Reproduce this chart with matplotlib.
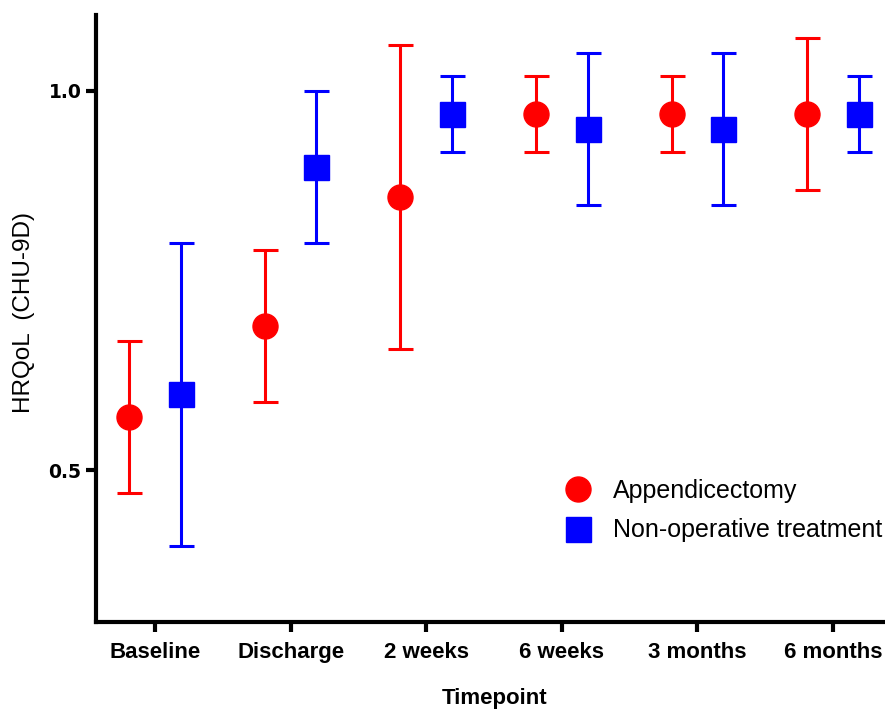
import matplotlib
matplotlib.use("Agg")
import matplotlib.pyplot as plt
from matplotlib.lines import Line2D
import numpy as np

timepoints = ['Baseline', 'Discharge', '2 weeks', '6 weeks', '3 months', '6 months']
app_mean = [0.57, 0.69, 0.86, 0.97, 0.97, 0.97]
app_low = [0.47, 0.59, 0.66, 0.92, 0.92, 0.87]
app_high = [0.67, 0.79, 1.06, 1.02, 1.02, 1.07]
non_mean = [0.60, 0.90, 0.97, 0.95, 0.95, 0.97]
non_low = [0.40, 0.80, 0.92, 0.85, 0.85, 0.92]
non_high = [0.80, 1.00, 1.02, 1.05, 1.05, 1.02]

RED = '#ff0000'
BLUE = '#0000ff'
regular = ['Liberation Sans', 'DejaVu Sans']

fig = plt.figure(figsize=(8.85, 7.12), dpi=100)
ax = fig.add_axes([96/885, 90/712, 798/885, 607/712])

x = np.arange(len(timepoints))
off = 0.19

am = np.array(app_mean); nm = np.array(non_mean)
ax.errorbar(x - off, am, yerr=[am - np.array(app_low), np.array(app_high) - am],
            fmt='o', color=RED, ecolor=RED, markersize=18, elinewidth=2.2,
            capsize=9, capthick=2.2, clip_on=False, zorder=3)
ax.errorbar(x + off, nm, yerr=[nm - np.array(non_low), np.array(non_high) - nm],
            fmt='s', color=BLUE, ecolor=BLUE, markersize=18, elinewidth=2.2,
            capsize=9, capthick=2.2, clip_on=False, zorder=3)

ax.set_ylim(0.3, 1.1)
ax.set_xlim(-0.435, 5.45)
ax.set_yticks([0.5, 1.0])
ax.set_yticklabels(['0.5', '1.0'], fontfamily=['DejaVu Sans'], fontweight='bold', fontsize=13.5)
ax.set_xticks(x)
ax.set_xticklabels(timepoints, fontfamily=regular, fontweight='bold', fontsize=16)

for s in ['top', 'right']:
    ax.spines[s].set_visible(False)
for s in ['left', 'bottom']:
    ax.spines[s].set_linewidth(3)
ax.tick_params(axis='both', width=3, length=7.5, direction='out')
ax.tick_params(axis='x', pad=7)
ax.tick_params(axis='y', pad=3)

ax.set_xlabel('Timepoint', fontfamily=regular, fontweight='bold', fontsize=16)
ax.xaxis.set_label_coords(0.5, -0.108)
ax.set_ylabel('HRQoL  (CHU-9D)', fontfamily=regular, fontsize=17.5)
ax.yaxis.set_label_coords(-0.076, 0.51)

handles = [Line2D([], [], marker='o', color=RED, linestyle='none', markersize=18),
           Line2D([], [], marker='s', color=BLUE, linestyle='none', markersize=18)]
ax.legend(handles, ['Appendicectomy', 'Non-operative treatment'], loc='upper left',
          bbox_to_anchor=(0.557, 0.273), frameon=False,
          prop={'family': regular, 'size': 18}, handletextpad=0.8,
          labelspacing=0.62, handlelength=1.2)

fig.savefig('out.png', dpi=100)
